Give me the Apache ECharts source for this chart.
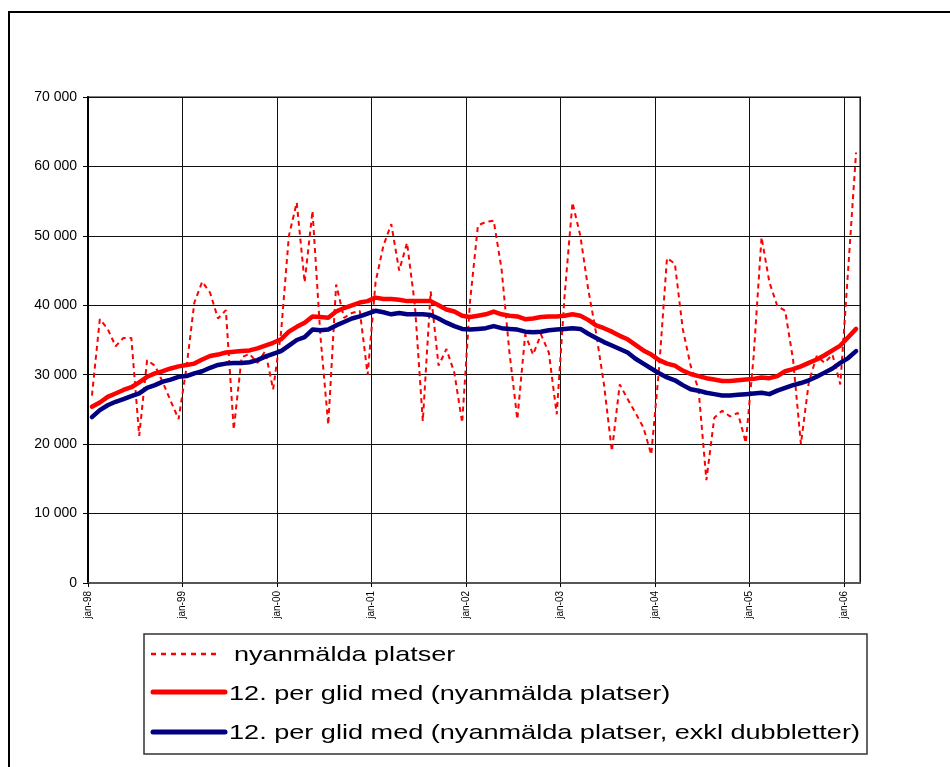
<!DOCTYPE html>
<html>
<head>
<meta charset="utf-8">
<script src="https://cdn.jsdelivr.net/npm/echarts@6/dist/echarts.min.js"></script>
<style>
html,body{margin:0;padding:0;background:#fff;}
#chart{width:950px;height:767px;}
</style>
</head>
<body>
<div id="chart"></div>
<script>
// Monthly categories jan-98 .. feb-06
const months = [
 'jan-98','feb-98','mar-98','apr-98','maj-98','jun-98','jul-98','aug-98','sep-98','okt-98','nov-98','dec-98',
 'jan-99','feb-99','mar-99','apr-99','maj-99','jun-99','jul-99','aug-99','sep-99','okt-99','nov-99','dec-99',
 'jan-00','feb-00','mar-00','apr-00','maj-00','jun-00','jul-00','aug-00','sep-00','okt-00','nov-00','dec-00',
 'jan-01','feb-01','mar-01','apr-01','maj-01','jun-01','jul-01','aug-01','sep-01','okt-01','nov-01','dec-01',
 'jan-02','feb-02','mar-02','apr-02','maj-02','jun-02','jul-02','aug-02','sep-02','okt-02','nov-02','dec-02',
 'jan-03','feb-03','mar-03','apr-03','maj-03','jun-03','jul-03','aug-03','sep-03','okt-03','nov-03','dec-03',
 'jan-04','feb-04','mar-04','apr-04','maj-04','jun-04','jul-04','aug-04','sep-04','okt-04','nov-04','dec-04',
 'jan-05','feb-05','mar-05','apr-05','maj-05','jun-05','jul-05','aug-05','sep-05','okt-05','nov-05','dec-05',
 'jan-06','feb-06'
];

const nyanmalda = [
 27000,38000,36600,34100,35300,35300,21200,32100,31300,28900,26200,23600,
 31000,40400,43400,41800,38100,39300,22100,32500,33000,31700,33400,27900,
 36000,50000,54800,43300,53600,35600,22800,43000,38200,38900,39200,30000,
 43300,48600,51700,45000,49000,40000,23300,42000,31300,33700,30300,23100,
 40600,51500,52000,52200,45200,33200,23600,35800,32900,35800,33200,24300,
 41400,54800,50000,42300,36000,28600,19000,28600,26500,24500,22400,18500,
 31000,46800,46000,36600,31300,27900,14800,23800,24800,24000,24500,20200,
 32700,49800,43300,39900,39200,32200,20000,28900,32700,31700,32900,28600,
 45200,62000
];

const glidMed = [
 25400,26000,26800,27300,27800,28200,28900,29700,30200,30500,30900,31200,
 31400,31600,32200,32700,32900,33200,33300,33400,33500,33800,34200,34600,
 35100,36200,36900,37500,38400,38300,38200,39100,39600,40000,40400,40600,
 41100,40900,40900,40800,40600,40600,40600,40600,40000,39400,39100,38500,
 38300,38500,38700,39100,38700,38500,38400,38000,38100,38300,38400,38400,
 38500,38700,38500,37900,37100,36700,36200,35600,35100,34300,33500,32900,
 32100,31600,31300,30600,30100,29800,29500,29300,29100,29100,29200,29300,
 29400,29600,29500,29800,30500,30800,31200,31700,32200,32800,33500,34200,
 35400,36600
];

const glidMedExkl = [
 23900,24900,25600,26100,26500,26900,27300,28100,28500,29000,29300,29700,
 29800,30200,30500,31000,31400,31600,31700,31700,31800,32100,32600,33000,
 33400,34200,35000,35400,36500,36400,36500,37100,37600,38100,38400,38800,
 39200,39000,38700,38900,38700,38700,38700,38600,38100,37500,37000,36600,
 36500,36600,36700,37000,36700,36600,36500,36200,36100,36200,36400,36500,
 36600,36700,36600,35900,35300,34700,34200,33700,33200,32300,31600,30900,
 30200,29600,29200,28500,27900,27700,27400,27200,27000,27000,27100,27200,
 27300,27400,27200,27700,28100,28500,28800,29200,29700,30300,30900,31700,
 32400,33400
];

const yTicks = [0,10000,20000,30000,40000,50000,60000,70000];

const seriesNames = [
 'nyanmälda platser',
 '12. per glid med (nyanmälda platser)',
 '12. per glid med (nyanmälda platser, exkl dubbletter)'
];

// each month is plotted at the centre of its category slot
const toPoints = arr => arr.map((v, i) => [i + 0.5, v]);

const FONT = '"Liberation Sans", Arial, sans-serif';
const chart = echarts.init(document.getElementById('chart'), null, {renderer: 'canvas'});

// Legend drawn as a boxed key (text horizontally stretched like the original)
const legendText = (name, x, y) => ({
  type: 'text', x: x, y: y, scaleX: 1.29, silent: true,
  style: {text: name, fontSize: 21, fontFamily: FONT, fill: '#000',
          align: 'left', verticalAlign: 'middle'}
});

chart.setOption({
  animation: false,
  backgroundColor: '#fff',
  textStyle: {fontFamily: FONT},
  grid: {
    left: 88, top: 97, right: 90, bottom: 184,
    show: true, borderColor: '#808080', borderWidth: 2
  },
  xAxis: {
    type: 'value',
    min: 0, max: months.length, interval: 12,
    axisLine: {show: true, onZero: false, lineStyle: {color: '#555', width: 2}},
    axisTick: {show: true, length: 4, lineStyle: {color: '#000'}},
    splitLine: {show: true, lineStyle: {color: '#111', width: 1}},
    axisLabel: {
      rotate: 90, fontSize: 10, color: '#000', margin: 8, fontFamily: FONT,
      showMaxLabel: false,
      formatter: v => (v % 12 === 0 && months[v]) ? months[v] : ''
    }
  },
  yAxis: {
    type: 'value',
    min: yTicks[0], max: yTicks[yTicks.length - 1], interval: 10000,
    axisLine: {show: true, lineStyle: {color: '#000', width: 2}},
    axisTick: {show: true, length: 5, lineStyle: {color: '#000'}},
    splitLine: {show: true, lineStyle: {color: '#111', width: 1}},
    axisLabel: {
      fontSize: 14, color: '#000', margin: 11, fontFamily: FONT,
      formatter: v => String(v).replace(/\B(?=(\d{3})+(?!\d))/g, ' ')
    }
  },
  graphic: [
    {type: 'rect', shape: {x: 9, y: 12, width: 1000, height: 1000},
     style: {fill: 'none', stroke: '#000', lineWidth: 2}, silent: true},
    {type: 'rect', shape: {x: 144, y: 634, width: 723, height: 120},
     style: {fill: '#fff', stroke: '#333', lineWidth: 1.5}, silent: true},
    {type: 'line', shape: {x1: 151, y1: 654, x2: 218, y2: 654}, silent: true,
     style: {stroke: '#FF0000', lineWidth: 2.5, lineDash: [5, 5]}},
    {type: 'line', shape: {x1: 153, y1: 692, x2: 225, y2: 692}, silent: true,
     style: {stroke: '#FF0000', lineWidth: 5, lineCap: 'round'}},
    {type: 'line', shape: {x1: 153, y1: 732, x2: 225, y2: 732}, silent: true,
     style: {stroke: '#000080', lineWidth: 5, lineCap: 'round'}},
    legendText(seriesNames[0], 234, 655),
    legendText(seriesNames[1], 229, 694),
    legendText(seriesNames[2], 229, 733)
  ],
  series: [
    {
      name: seriesNames[0], type: 'line', data: toPoints(nyanmalda),
      symbol: 'none', smooth: false,
      lineStyle: {color: '#FF0000', width: 2, type: [5, 4]},
      itemStyle: {color: '#FF0000'}, z: 2
    },
    {
      name: seriesNames[1], type: 'line', data: toPoints(glidMed),
      symbol: 'none', smooth: false,
      lineStyle: {color: '#FF0000', width: 4.5, cap: 'round', join: 'round'},
      itemStyle: {color: '#FF0000'}, z: 3
    },
    {
      name: seriesNames[2], type: 'line', data: toPoints(glidMedExkl),
      symbol: 'none', smooth: false,
      lineStyle: {color: '#000080', width: 4.5, cap: 'round', join: 'round'},
      itemStyle: {color: '#000080'}, z: 4
    }
  ]
});
</script>
</body>
</html>
